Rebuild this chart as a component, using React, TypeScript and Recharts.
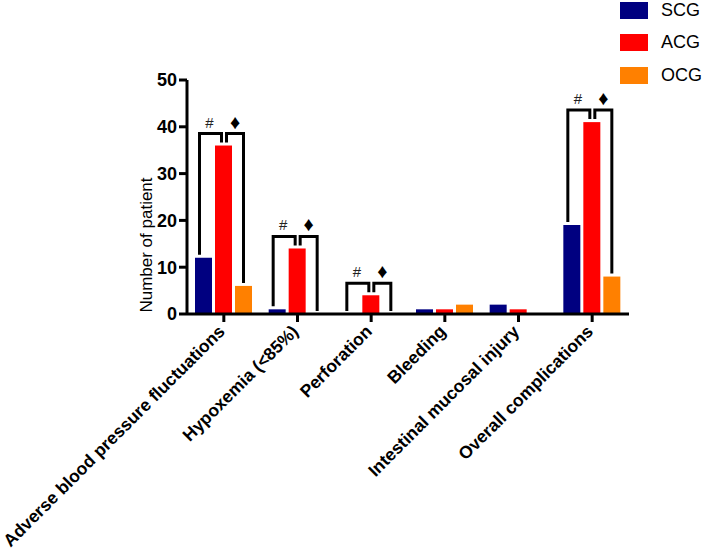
import React from 'react';
import { BarChart, Bar, XAxis, YAxis, Legend } from 'recharts';

const categories = [
  'Adverse blood pressure fluctuations',
  'Hypoxemia (<85%)',
  'Perforation',
  'Bleeding',
  'Intestinal mucosal injury',
  'Overall complications',
];
const scg = [12, 1, 0, 1, 2, 19];
const acg = [36, 14, 4, 1, 1, 41];
const ocg = [6, 0, 0, 2, 0, 8];
const markVsSCG = ['#', '#', '#', '', '', '#'];
const markVsOCG = ['\u2666', '\u2666', '\u2666', '', '', '\u2666'];
const yTicks = [0, 10, 20, 30, 40, 50];

const seriesNames = ['SCG', 'ACG', 'OCG'];
const seriesColors = ['#000080', '#FF0000', '#FF8000'];

const data = categories.map((c, i) => ({
  name: c,
  SCG: scg[i],
  ACG: acg[i],
  OCG: ocg[i],
  m1: markVsSCG[i],
  m2: markVsOCG[i],
}));

const FONT = '"Liberation Sans", Arial, sans-serif';
const BAR = 17;
const GAP = 3;

function AcgShape(props: any) {
  const { x, y, width, height, payload, fill } = props;
  const rect = <rect x={x} y={y} width={width} height={height} fill={fill} />;
  if (!payload.m1 && !payload.m2) return rect;
  const base = y + height;
  const ppu = height / payload.ACG;
  const cx = x + width / 2;
  const step = width + GAP;
  const top = y - 12;
  const sTop = base - payload.SCG * ppu - 3;
  const oTop = base - payload.OCG * ppu - 3;
  const inner = y - 3;
  const l1 = cx - step - 4;
  const r1 = cx - 2;
  const l2 = cx + 3;
  const r2 = cx + step;
  return (
    <g>
      {rect}
      <path
        d={`M${l1},${sTop}L${l1},${top}L${r1},${top}L${r1},${inner}`}
        fill="none"
        stroke="#000"
        strokeWidth={3}
        strokeLinejoin="miter"
      />
      <path
        d={`M${l2},${inner}L${l2},${top}L${r2},${top}L${r2},${oTop}`}
        fill="none"
        stroke="#000"
        strokeWidth={3}
        strokeLinejoin="miter"
      />
      <text x={cx - 14} y={top - 6} textAnchor="middle" fontSize={15} fontFamily={FONT} fill="#222">
        {payload.m1}
      </text>
      <text x={cx + 11.5} y={top - 5} textAnchor="middle" fontSize={20} fontFamily={FONT} fill="#000">
        {payload.m2}
      </text>
    </g>
  );
}

function XTick(props: any) {
  const { x, y, payload } = props;
  return (
    <g transform={`translate(${x + 2},${y + 8.5})`}>
      <text
        transform="rotate(-45)"
        textAnchor="end"
        fontSize={17.5}
        fontWeight="bold"
        fontFamily={FONT}
        fill="#000"
      >
        {payload.value}
      </text>
    </g>
  );
}

function YLabel(props: any) {
  const { viewBox } = props;
  const cx = viewBox.x + viewBox.width / 2 + 4;
  const cy = viewBox.y + viewBox.height - 69;
  return (
    <text
      x={cx}
      y={cy}
      transform={`rotate(-90, ${cx}, ${cy})`}
      textAnchor="middle"
      fontSize={17}
      fontFamily={FONT}
      fill="#000"
    >
      Number of patient
    </text>
  );
}

function LegendContent() {
  return (
    <div style={{ fontFamily: FONT }}>
      {seriesNames.map((n, i) => (
        <div key={n} style={{ display: 'flex', alignItems: 'center', height: 32.5 }}>
          <span style={{ display: 'inline-block', width: 28, height: 17, background: seriesColors[i] }} />
          <span style={{ marginLeft: 13, fontSize: 18, color: '#000' }}>{n}</span>
        </div>
      ))}
    </div>
  );
}

export default function App() {
  return (
    <div style={{ position: 'absolute', left: 0, top: 0, width: 706, height: 553, background: '#fff' }}>
      <BarChart
        width={706}
        height={553}
        data={data}
        margin={{ top: 80, right: 77, left: 109, bottom: 39 }}
        barSize={BAR}
        barGap={GAP}
        style={{ fontFamily: FONT }}
      >
        <XAxis
          dataKey="name"
          height={200}
          interval={0}
          tick={<XTick />}
          tickSize={8}
          axisLine={{ stroke: '#000', strokeWidth: 3 }}
          tickLine={{ stroke: '#000', strokeWidth: 3 }}
        />
        <YAxis
          width={78}
          domain={[0, 50]}
          ticks={yTicks}
          tickSize={8}
          tick={{ fontSize: 18, fontWeight: 'bold', fill: '#000', fontFamily: FONT }}
          axisLine={{ stroke: '#000', strokeWidth: 3 }}
          tickLine={{ stroke: '#000', strokeWidth: 3 }}
          label={<YLabel />}
        />
        <Legend
          layout="horizontal"
          verticalAlign="middle"
          align="center"
          content={<LegendContent />}
          wrapperStyle={{ position: 'absolute', top: -6, left: 620, width: 86, height: 100 }}
        />
        <Bar dataKey="SCG" fill={seriesColors[0]} isAnimationActive={false} />
        <Bar dataKey="ACG" fill={seriesColors[1]} isAnimationActive={false} shape={<AcgShape />} />
        <Bar dataKey="OCG" fill={seriesColors[2]} isAnimationActive={false} />
      </BarChart>
    </div>
  );
}
